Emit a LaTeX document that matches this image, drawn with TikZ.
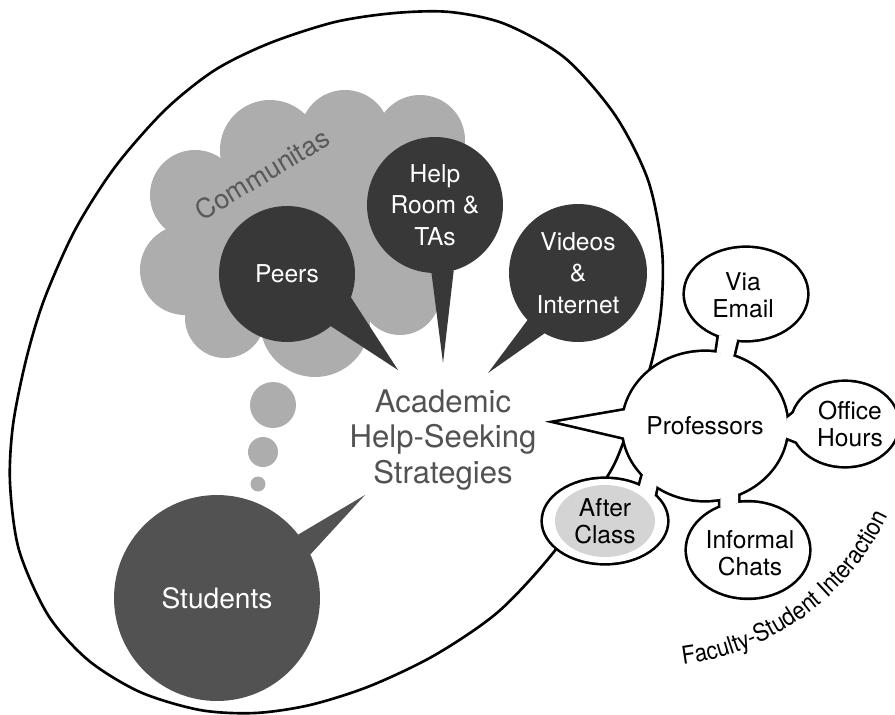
\documentclass[tikz,border=0pt]{standalone}
\usepackage{fontspec}
\setmainfont{TeX Gyre Heros}
\newfontfamily\narrowsf[FakeStretch=0.9]{TeX Gyre Heros}
\usetikzlibrary{shapes.geometric,decorations.text}
\tikzset{
  egg/.style={line width=1.5pt},
  puff/.style={fill=black!32},
  bub/.style={circle,fill=black!78,text=white,inner sep=0pt,outer sep=0pt,align=center,font=\fontsize{14}{18}\selectfont},
  tail/.style={fill=black!78},
  satline/.style={ellipse,draw=black,line width=3pt,inner sep=0pt,outer sep=0pt},
  satfill/.style={ellipse,fill=white,inner sep=0pt,outer sep=0pt},
  sattext/.style={align=center,font=\fontsize{14}{15.5}\selectfont}
}
% professors bubble and its satellites, drawn twice: outline, then fill
\newcommand{\profgroup}[1]{%
  \node[#1,minimum width=3.28cm,minimum height=2.96cm] (prof) at (705,426) {};
  \node[#1,minimum width=2.44cm,minimum height=1.84cm] (via) at (746,294) {};
  \node[#1,minimum width=2.12cm,minimum height=1.68cm] (office) at (845,424) {};
  \node[#1,minimum width=2.44cm,minimum height=1.9cm] (chats) at (748,550) {};
  \node[#1,minimum width=2.48cm,minimum height=1.68cm] (after) at (605,521) {};
  \path[#1] (prof.169) -- (ptip) -- (prof.188) -- cycle;
  \path[#1] (prof.81) -- (via.237) -- (via.259) -- (prof.68) -- cycle;
  \path[#1] (prof.5) -- (office.168) -- (office.200) -- (prof.-8) -- cycle;
  \path[#1] (prof.-78) -- (chats.123) -- (chats.102) -- (prof.-64) -- cycle;
  \path[#1] (prof.218) -- (after.45) -- (after.27) -- (prof.231) -- cycle;
}

\begin{document}
\begin{tikzpicture}[x=0.02cm,y=-0.02cm]
\useasboundingbox (0,0) rectangle (895,714);

% outer egg
\draw[egg] plot[smooth cycle] coordinates {(10,483) (19,550) (48,615) (88,660) (140,692) (200,710) (255,713) (310,705) (370,686) (435,655) (498,612) (553,553) (607,477) (625,438) (650,368) (661,310) (662,250) (648,180) (615,115) (565,58) (505,24) (450,12) (395,13) (335,22) (270,43) (215,70) (165,110) (115,167) (75,230) (44,300) (26,360) (13,425)};

% cloud
\fill[puff] (310,230) circle[radius=100] (195,195) circle[radius=45] (185,270) circle[radius=45]
  (270,150) circle[radius=50] (345,135) circle[radius=45] (420,140) circle[radius=45]
  (448,225) circle[radius=38] (400,295) circle[radius=40] (315,322) circle[radius=55]
  (225,318) circle[radius=40];
\node[font=\fontsize{15.3}{18}\selectfont,text=black!65,rotate=31] (comm) at (262,174) {Communitas};

% thought dots
\fill[puff] (273,405) circle[radius=23] (263,452) circle[radius=15] (258,484) circle[radius=7.5];

% speech bubbles
\node[bub,minimum size=2.72cm] (peers) at (287,274) {Peers};
\node[bub,minimum size=2.72cm] (help) at (435,205) {Help\\Room \&\\TAs};
\node[bub,minimum size=2.76cm] (videos) at (578,273) {Videos\\\&\\Internet};
\node[bub,fill=black!68,minimum size=4.12cm,font=\fontsize{16}{19}\selectfont] (students) at (217,598) {Students};
\coordinate (peerstip) at (398,370);
\coordinate (helptip) at (443,363);
\coordinate (videostip) at (488,373);
\coordinate (studtip) at (365,495);
\fill[tail] (peers.-20) -- (peerstip) -- (peers.-50) -- cycle;
\fill[tail] (help.-93) -- (helptip) -- (help.-74) -- cycle;
\fill[tail] (videos.-137) -- (videostip) -- (videos.-119) -- cycle;
\fill[tail,fill=black!68] (students.38) -- (studtip) -- (students.25) -- cycle;

\node[font=\fontsize{17.7}{20}\selectfont,text=black!68,align=center] (ahs) at (443,440) {Academic\\Help-Seeking\\Strategies};

% faculty side
\coordinate (ptip) at (558,422);
\profgroup{satline}
\profgroup{satfill}
\node[ellipse,fill=black!17,inner sep=0pt,minimum width=2cm,minimum height=1.44cm] (afterin) at (605,521) {};

\node[sattext] (proftxt) at (prof) {Professors};
\node[sattext] (viatxt) at (743,295) {Via\\Email};
\node[sattext] (officetxt) at (850,424) {Office\\Hours};
\node[sattext] (chatstxt) at (750,553) {Informal\\Chats};
\node[sattext] (aftertxt) at (605,521) {After\\Class};

\coordinate (fsi) at (672,666);
\path[decorate,decoration={text along path,text align=center,
  text={|\narrowsf\fontsize{14}{16}\selectfont|Faculty-Student Interaction}}]
  (fsi) arc[start angle=-85,end angle=-23,radius=5.3cm];
\end{tikzpicture}
\end{document}
